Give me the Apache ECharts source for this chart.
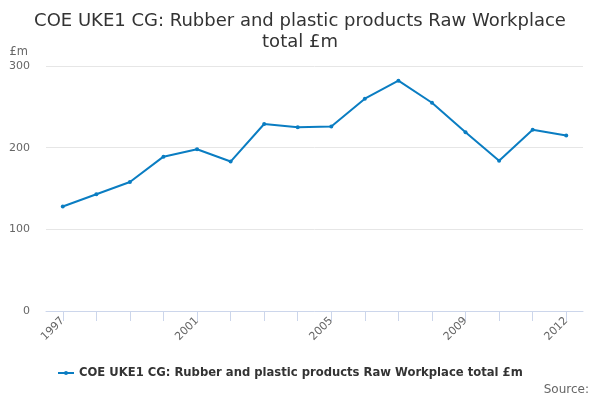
<!DOCTYPE html>
<html>
<head>
<meta charset="utf-8">
<script src="https://cdn.jsdelivr.net/npm/echarts@6/dist/echarts.min.js"></script>
<style>
  html, body { margin: 0; padding: 0; background: #fff; }
  #chart { width: 600px; height: 400px; }
</style>
</head>
<body>
<div id="chart"></div>
<script>
var years = ['1997', '1998', '1999', '2000', '2001', '2002', '2003', '2004',
             '2005', '2006', '2007', '2008', '2009', '2010', '2011', '2012'];
var workplace_total = [128, 143, 158, 189, 198, 183, 229, 225,
                       226, 260, 282, 255, 219, 184, 222, 215];
var series_name = 'COE UKE1 CG: Rubber and plastic products Raw Workplace total £m';

var chart = echarts.init(document.getElementById('chart'));
var font = 'DejaVu Sans';

var option = {
    animation: false,
    textStyle: { fontFamily: font },
    title: {
        text: 'COE UKE1 CG: Rubber and plastic products Raw Workplace\ntotal £m',
        left: 'center',
        top: 6,
        textStyle: { fontFamily: font, fontSize: 18, fontWeight: 'normal', color: '#333', lineHeight: 21 }
    },
    grid: { left: 46, right: 17, top: 66, bottom: 89 },
    legend: {
        bottom: 16,
        left: 52,
        itemWidth: 16,
        itemHeight: 5,
        itemGap: 6,
        textStyle: { fontFamily: font, fontSize: 11.6, fontWeight: 'bold', color: '#333' }
    },
    xAxis: {
        type: 'category',
        data: years,
        boundaryGap: true,
        axisLine: { show: true, lineStyle: { color: '#ccd6eb' } },
        axisTick: { show: true, alignWithLabel: true, interval: 0, length: 10, lineStyle: { color: '#ccd6eb' } },
        axisLabel: {
            rotate: 45,
            color: '#666',
            fontSize: 11,
            fontFamily: font,
            margin: 8,
            interval: function (i) { return i % 4 === 0 || i === years.length - 1; }
        }
    },
    yAxis: {
        type: 'value',
        min: 0,
        max: 300,
        interval: 100,
        name: '£m',
        nameLocation: 'end',
        nameGap: 8,
        nameTextStyle: { color: '#666', fontSize: 11.5, fontFamily: font, align: 'right', padding: [0, 18, 0, 0] },
        axisLine: { show: false },
        axisTick: { show: false },
        axisLabel: { color: '#666', fontSize: 11, fontFamily: font, margin: 16 },
        splitLine: { lineStyle: { color: '#e6e6e6' } }
    },
    series: [{
        name: series_name,
        type: 'line',
        data: workplace_total,
        symbol: 'circle',
        symbolSize: 4,
        lineStyle: { color: '#0a7dc2', width: 2 },
        itemStyle: { color: '#0a7dc2' }
    }],
    graphic: [{
        type: 'text',
        right: 11,
        bottom: 4,
        style: { text: 'Source:', fill: '#666', font: '12px "DejaVu Sans"' }
    }]
};
chart.setOption(option);
</script>
</body>
</html>
